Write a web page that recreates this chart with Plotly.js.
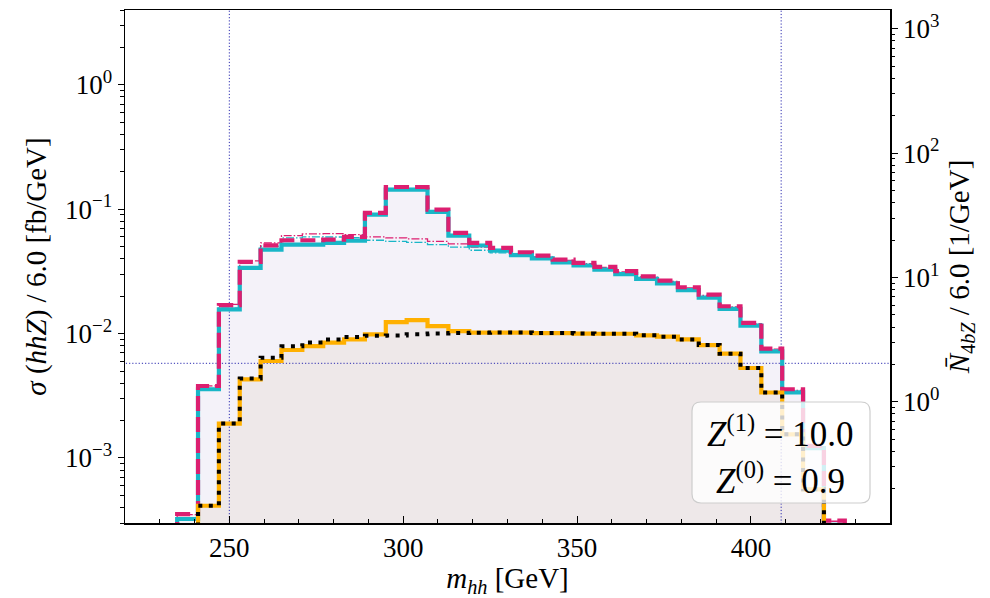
<!DOCTYPE html>
<html><head><meta charset="utf-8">
<script src="https://cdn.plot.ly/plotly-3.0.1.min.js"></script>
<style>body{margin:0;background:#fff}</style>
</head><body><div id="chart" style="width:990px;height:598px"></div>
<script>
// bin edges of m_hh [GeV] (6 GeV bins)
const binEdges = [235,241,247,253,259,265,271,277,283,289,295,301,307,313,319,325,331,337,343,349,355,361,367,373,379,385,391,397,403,409,415,421,427];

// total (thick dashed magenta)
const totalMagenta = [3.54e-4,3.79e-3,0.01693,0.0378,0.0513,0.0563,0.0563,0.0570,0.0600,0.0934,0.151,0.151,0.0993,0.0645,0.0537,0.0489,0.0451,0.0424,0.0394,0.0371,0.0344,0.0318,0.0289,0.0267,0.0236,0.0206,0.0166,0.0122,0.00757,0.00357,0.00125,3.13e-4];
// total (thick solid cyan)
const totalCyan = [3.23e-4,3.57e-3,0.01564,0.0338,0.0474,0.0520,0.0520,0.0537,0.0560,0.0905,0.1436,0.1436,0.0951,0.0614,0.0511,0.0465,0.0428,0.0402,0.0373,0.0353,0.0327,0.0301,0.0275,0.0253,0.0224,0.0195,0.0158,0.0116,0.00720,0.00337,0.00120,2.9e-4];
// continuum (thin dash-dot magenta)
const contMagenta = [3.5e-4,3.8e-3,0.0172,0.0385,0.0537,0.0614,0.0634,0.0637,0.0625,0.0600,0.0588,0.0578,0.0552,0.0527,0.0495,0.0474,0.0440,0.0414,0.0387,0.0365,0.0340,0.0314,0.0286,0.0263,0.0233,0.0203,0.0164,0.0120,0.0075,0.0035,0.00123,3.1e-4];
// continuum (thin dash-dot cyan)
const contCyan = [3.3e-4,3.6e-3,0.0160,0.0345,0.0504,0.0588,0.0600,0.0598,0.0591,0.0563,0.0552,0.0542,0.0520,0.0495,0.0468,0.0446,0.0424,0.0400,0.0371,0.0350,0.0324,0.0298,0.0272,0.0250,0.0222,0.0194,0.0157,0.0115,0.0072,0.00336,0.00119,2.9e-4];
// signal (thick solid gold)
const signalGold = [1.5e-4,4.13e-4,1.89e-3,4.29e-3,6.02e-3,7.38e-3,7.94e-3,8.46e-3,8.98e-3,9.86e-3,0.01236,0.01283,0.01148,0.01047,0.01017,0.0102,0.0102,0.0101,0.0101,0.0100,0.00997,0.00997,0.00968,0.00944,0.00898,0.00809,0.00690,0.00529,0.00336,0.00155,5.6e-4,1.5e-4];
// signal continuum (dotted black)
const signalBlack = [1.5e-4,4.13e-4,1.89e-3,4.35e-3,6.4e-3,7.9e-3,8.5e-3,8.98e-3,9.4e-3,9.6e-3,9.65e-3,9.9e-3,0.0100,0.0101,0.01017,0.0102,0.0102,0.0101,0.0101,0.0100,0.00997,0.00997,0.00968,0.00944,0.00898,0.00809,0.00690,0.00529,0.00336,0.00155,5.6e-4,1.5e-4];

// reference lines
const vLines = [250, 408.7];
const hLine = 5.77e-3;

// axis ticks
const xTickVals = [250,300,350,400];
const yTickVals = [1e-3,1e-2,1e-1,1];
const yTickText = ['10<sup>−3</sup>','10<sup>−2</sup>','10<sup>−1</sup>','10<sup>0</sup>'];
const y2TickVals = [1,10,100,1000];
const y2TickText = ['10<sup>0</sup>','10<sup>1</sup>','10<sup>2</sup>','10<sup>3</sup>'];
const legendLines = ['<i>Z</i><sup>(1)</sup> = 10.0','<i>Z</i><sup>(0)</sup> = 0.9'];

const FLOOR = 1e-6;
function stepTrace(vals){
  const x=[binEdges[0]], y=[FLOOR];
  for(let i=0;i<vals.length;i++){ x.push(binEdges[i]); y.push(vals[i]); }
  x.push(binEdges[binEdges.length-1]); y.push(vals[vals.length-1]);
  x.push(binEdges[binEdges.length-1]); y.push(FLOOR);
  return {x:x,y:y};
}
function minorLog(lo,hi){
  const out=[];
  for(let d=lo; d<=hi; d++){ for(let k=2;k<=9;k++){ out.push(k*Math.pow(10,d)); } }
  return out;
}

const MAG='#dc1f70', CYA='#19b6c7', GOLD='#ffb000', NAVY='#2b2bb0';
const traces=[];
function add(vals, opts){ const s=stepTrace(vals); traces.push(Object.assign({x:s.x,y:s.y,type:'scatter',mode:'lines',line:{shape:'hv'},hoverinfo:'skip',showlegend:false},opts)); }

add(totalMagenta,{fill:'toself',fillcolor:'rgb(244,242,249)',line:{shape:'hv',width:0}});
add(signalGold,{fill:'toself',fillcolor:'rgb(238,232,233)',line:{shape:'hv',width:0}});
// reference lines
vLines.forEach(v=>traces.push({x:[v,v],y:[1e-6,1e3],type:'scatter',mode:'lines',line:{color:NAVY,width:1,dash:'1.2px,2px'},hoverinfo:'skip',showlegend:false}));
traces.push({x:[200,460],y:[hLine,hLine],type:'scatter',mode:'lines',line:{color:NAVY,width:1,dash:'1.2px,2px'},hoverinfo:'skip',showlegend:false});

add(contCyan,{line:{shape:'hv',color:CYA,width:1.3,dash:'8px,2px,1.5px,2px'}});
add(contMagenta,{line:{shape:'hv',color:MAG,width:1.3,dash:'8px,2px,1.5px,2px'}});
add(totalCyan,{line:{shape:'hv',color:CYA,width:4.2}});
add(totalMagenta,{line:{shape:'hv',color:MAG,width:4.2,dash:'15px,6px'}});
add(signalGold,{line:{shape:'hv',color:GOLD,width:4.2}});
add(signalBlack,{line:{shape:'hv',color:'#000',width:4,dash:'4px,6.5px'}});
// empty trace to activate right axis
traces.push({x:[],y:[],yaxis:'y2',type:'scatter',mode:'lines',showlegend:false,hoverinfo:'skip'});

const FONT='Liberation Serif';
const px0=125, px1=890, py0=10, py1=523;
function pxX(p){return (p-px0)/(px1-px0);}
function pxY(p){return (py1-p)/(py1-py0);}
const bx0=pxX(692), bx1=pxX(870), by0=pxY(503), by1=pxY(402);
const rx=9/(px1-px0), ry=9/(py1-py0);
const boxPath = `M ${bx0+rx},${by0} L ${bx1-rx},${by0} Q ${bx1},${by0} ${bx1},${by0+ry} L ${bx1},${by1-ry} Q ${bx1},${by1} ${bx1-rx},${by1} L ${bx0+rx},${by1} Q ${bx0},${by1} ${bx0},${by1-ry} L ${bx0},${by0+ry} Q ${bx0},${by0} ${bx0+rx},${by0} Z`;

const layout={
  width:990,height:598,
  margin:{l:125,r:100,t:10,b:75,pad:0},
  paper_bgcolor:'#fff',plot_bgcolor:'#fff',
  font:{family:FONT,color:'#000',size:26},
  showlegend:false,
  xaxis:{range:[220,440],showgrid:false,zeroline:false,showline:true,linecolor:'#000',linewidth:1.5,mirror:true,
    tickmode:'array',tickvals:xTickVals,ticks:'inside',ticklen:7,tickwidth:1,tickcolor:'#000',
    minor:{dtick:10,tick0:0,ticks:'inside',ticklen:4,tickwidth:1,tickcolor:'#000',showgrid:false},
    tickfont:{family:FONT,size:27},
    title:{text:'<i>m</i><sub><i>hh</i></sub> [GeV]',font:{family:FONT,size:29},standoff:8}},
  yaxis:{type:'log',range:[Math.log10(3.0e-4),Math.log10(4.0)],showgrid:false,zeroline:false,showline:true,linecolor:'#000',linewidth:1.5,
    tickmode:'array',tickvals:yTickVals,ticktext:yTickText,ticks:'outside',ticklen:6,tickwidth:1,tickcolor:'#000',
    minor:{tickmode:'array',tickvals:minorLog(-4,0),ticks:'outside',ticklen:3.5,tickwidth:1,tickcolor:'#000',showgrid:false},
    tickfont:{family:FONT,size:27},
    title:{text:'<i>σ</i> (<i>hhZ</i>) / 6.0 [fb/GeV]',font:{family:FONT,size:29},standoff:10}},
  yaxis2:{type:'log',overlaying:'y',side:'right',range:[-0.974,3.151],showgrid:false,zeroline:false,showline:true,linecolor:'#000',linewidth:1.5,
    tickmode:'array',tickvals:y2TickVals,ticktext:y2TickText,ticks:'outside',ticklen:6,tickwidth:1,tickcolor:'#000',
    minor:{tickmode:'array',tickvals:minorLog(-1,3),ticks:'outside',ticklen:3.5,tickwidth:1,tickcolor:'#000',showgrid:false},
    tickfont:{family:FONT,size:27},
    title:{text:'<i>N̄</i><sub>4<i>bZ</i></sub> / 6.0 [1/GeV]',font:{family:FONT,size:29},standoff:10}},
  shapes:[{type:'path',xref:'paper',yref:'paper',path:boxPath,fillcolor:'rgba(255,255,255,0.8)',line:{color:'rgb(205,205,205)',width:1.2},layer:'above'}],
  annotations:[
    {xref:'paper',yref:'paper',x:pxX(780),y:pxY(431),text:legendLines[0],showarrow:false,font:{family:FONT,size:35},xanchor:'center',yanchor:'middle'},
    {xref:'paper',yref:'paper',x:pxX(780),y:pxY(478),text:legendLines[1],showarrow:false,font:{family:FONT,size:35},xanchor:'center',yanchor:'middle'}
  ]
};
Plotly.newPlot('chart',traces,layout,{staticPlot:true});
</script></body></html>
